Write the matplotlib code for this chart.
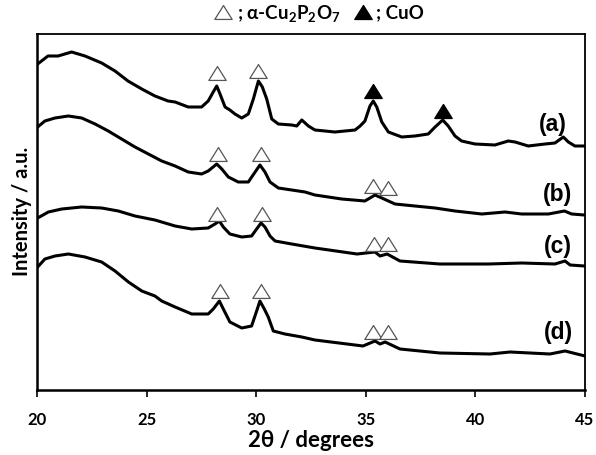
import matplotlib
matplotlib.use("Agg")
import matplotlib.pyplot as plt
from matplotlib.lines import Line2D
from matplotlib.path import Path

# ---- data ----
tt_a = [20.03, 20.50, 20.96, 21.58, 22.19, 22.95, 23.56, 24.15, 24.78, 25.38, 25.98, 26.30, 26.90, 27.51,
        27.81, 28.04, 28.20, 28.35, 28.58, 28.80, 29.03, 29.34, 29.64, 29.87, 30.10, 30.28, 30.48, 30.71,
        31.01, 31.62, 31.85, 32.08, 32.38, 32.68, 33.59, 34.51, 34.74, 34.96, 35.19, 35.34, 35.50, 35.73,
        36.03, 36.64, 37.24, 37.85, 38.16, 38.51, 38.76, 39.07, 39.37, 39.98, 40.89, 41.50, 41.81, 42.41,
        43.18, 43.63, 44.01, 44.24, 44.54, 44.97]
int_a = [326, 334, 334, 338, 334, 327, 319, 309, 301, 294, 289, 288, 283, 283,
         289, 298, 304, 296, 283, 280, 276, 272, 276, 291, 309, 303, 291, 271,
         266, 265, 264, 270, 264, 260, 258, 260, 264, 269, 284, 289, 283, 268,
         258, 253, 254, 256, 263, 270, 264, 254, 249, 246, 245, 249, 248, 244,
         246, 247, 253, 248, 244, 244]

tt_b = [20.03, 20.36, 20.82, 21.43, 22.04, 22.65, 23.25, 23.86, 24.47, 25.08, 25.69, 26.30, 26.90, 27.51,
        27.81, 28.20, 28.43, 28.73, 29.18, 29.64, 29.95, 30.17, 30.40, 30.63, 31.01, 31.62, 32.23, 32.68,
        33.90, 34.96, 35.42, 35.73, 36.33, 37.24, 38.16, 39.07, 40.29, 41.35, 42.11, 43.33, 44.06, 44.39,
        44.97]
int_b = [263, 269, 272, 274, 272, 266, 259, 251, 243, 236, 229, 224, 218, 216,
         219, 226, 221, 213, 208, 208, 218, 225, 218, 208, 202, 200, 198, 195,
         191, 189, 195, 192, 186, 184, 182, 179, 176, 178, 176, 176, 179, 176,
         175]

tt_c = [20.03, 20.52, 21.13, 22.04, 22.95, 23.71, 24.47, 25.38, 26.30, 27.06, 27.81, 28.12, 28.32, 28.50,
        28.80, 29.34, 29.79, 30.02, 30.22, 30.40, 30.63, 30.86, 31.62, 32.68, 34.60, 35.42, 35.65, 35.97,
        36.56, 38.38, 40.59, 42.11, 43.63, 44.09, 44.32, 44.97]
int_c = [172, 178, 181, 183, 182, 179, 174, 170, 164, 161, 162, 166, 169, 163,
         156, 153, 154, 161, 167, 163, 154, 149, 146, 142, 136, 138, 134, 136,
         129, 126, 126, 127, 126, 129, 125, 124]

tt_d = [20.03, 20.36, 20.82, 21.43, 22.19, 22.95, 23.56, 24.17, 24.78, 25.38, 25.69, 26.30, 27.06, 27.81,
        28.04, 28.32, 28.50, 28.80, 29.34, 29.79, 30.02, 30.17, 30.37, 30.55, 30.78, 31.31, 32.08, 32.68,
        34.87, 35.42, 35.65, 35.88, 36.56, 38.38, 40.67, 41.58, 43.40, 44.09, 45.00]
int_d = [123, 131, 134, 136, 133, 128, 119, 108, 99, 94, 89, 83, 76, 76,
         81, 89, 81, 68, 62, 64, 79, 89, 81, 73, 59, 56, 53, 50,
         44, 49, 46, 48, 41, 37, 36, 38, 36, 39, 34]

# open triangles: alpha-Cu2P2O7 ; filled triangles: CuO
open_tt = [28.20, 30.10, 28.24, 30.22, 35.34, 36.03, 28.23, 30.25, 35.37, 36.01, 28.33, 30.21, 35.33, 36.01]
open_int = [317, 319, 236, 236, 204, 202, 176, 176, 146, 146, 99, 99, 58, 58]
filled_tt = [35.34, 38.52]
filled_int = [299, 279]

sample_labels = ["(a)", "(b)", "(c)", "(d)"]
label_tt = [43.55, 43.75, 43.75, 43.77]
label_int = [266, 196, 144, 58]

xticks = [20, 25, 30, 35, 40, 45]

# ---- figure ----
W, H = 596, 456
fig = plt.figure(figsize=(W / 100, H / 100), dpi=100)
ax = fig.add_axes([37 / W, 1 - 391 / H, (585 - 37) / W, (391 - 35) / H])

tri = Path([(-1, -0.8), (1, -0.8), (0, 0.8), (-1, -0.8)],
           [Path.MOVETO, Path.LINETO, Path.LINETO, Path.CLOSEPOLY])

for tt, it in [(tt_a, int_a), (tt_b, int_b), (tt_c, int_c), (tt_d, int_d)]:
    ax.plot(tt, it, color="black", lw=2.2, solid_joinstyle="round")

ax.plot(open_tt, open_int, linestyle="none", marker=tri, markersize=12.5,
        markerfacecolor="white", markeredgecolor="#555555", markeredgewidth=0.9)
ax.plot(filled_tt, filled_int, linestyle="none", marker=tri, markersize=12.5,
        markerfacecolor="black", markeredgecolor="black")

for lab, x, y in zip(sample_labels, label_tt, label_int):
    ax.text(x, y, lab, ha="center", va="center", fontsize=16.5, fontweight="bold",
            family="Liberation Sans")

ax.set_xlim(20, 45)
ax.set_ylim(0, 356)
ax.set_xticks(xticks)
ax.set_xticklabels([str(t) for t in xticks], fontsize=12, fontweight="bold", family="Lato")
ax.set_yticks([])
ax.tick_params(axis="x", direction="out", length=5, width=1.2, pad=10)
for s in ["left", "bottom"]:
    ax.spines[s].set_linewidth(1.8)
for s in ["top", "right"]:
    ax.spines[s].set_linewidth(1.3)

fig.text(311 / W, 1 - 441 / H, "2θ / degrees", ha="center", va="center",
         fontsize=16, fontweight="bold", family="Lato")
fig.text(22 / W, 1 - 211 / H, "Intensity / a.u.", rotation=90, ha="center", va="center",
         fontsize=14.5, fontweight="bold", family="Lato")

# legend-like header
plt.rcParams["mathtext.fontset"] = "custom"
plt.rcParams["mathtext.rm"] = "Lato:bold"
plt.rcParams["mathtext.it"] = "Lato:bold"
plt.rcParams["mathtext.bf"] = "Lato:bold"
hy = 1 - 13 / H
fig.add_artist(Line2D([223 / W], [hy], transform=fig.transFigure, linestyle="none",
                      marker=tri, markersize=12.5, markerfacecolor="white",
                      markeredgecolor="#555555", markeredgewidth=0.9))
fig.add_artist(Line2D([363 / W], [hy], transform=fig.transFigure, linestyle="none",
                      marker=tri, markersize=12.5, markerfacecolor="black", markeredgecolor="black"))
fig.text(237 / W, hy, r"; α-Cu$_\mathrm{2}$P$_\mathrm{2}$O$_\mathrm{7}$", ha="left", va="center",
         fontsize=13.5, fontweight="bold", family=["Lato", "DejaVu Sans"])
fig.text(376 / W, hy, "; CuO", ha="left", va="center", fontsize=13.5,
         fontweight="bold", family=["Lato", "DejaVu Sans"])

fig.savefig("out.png", dpi=100)
